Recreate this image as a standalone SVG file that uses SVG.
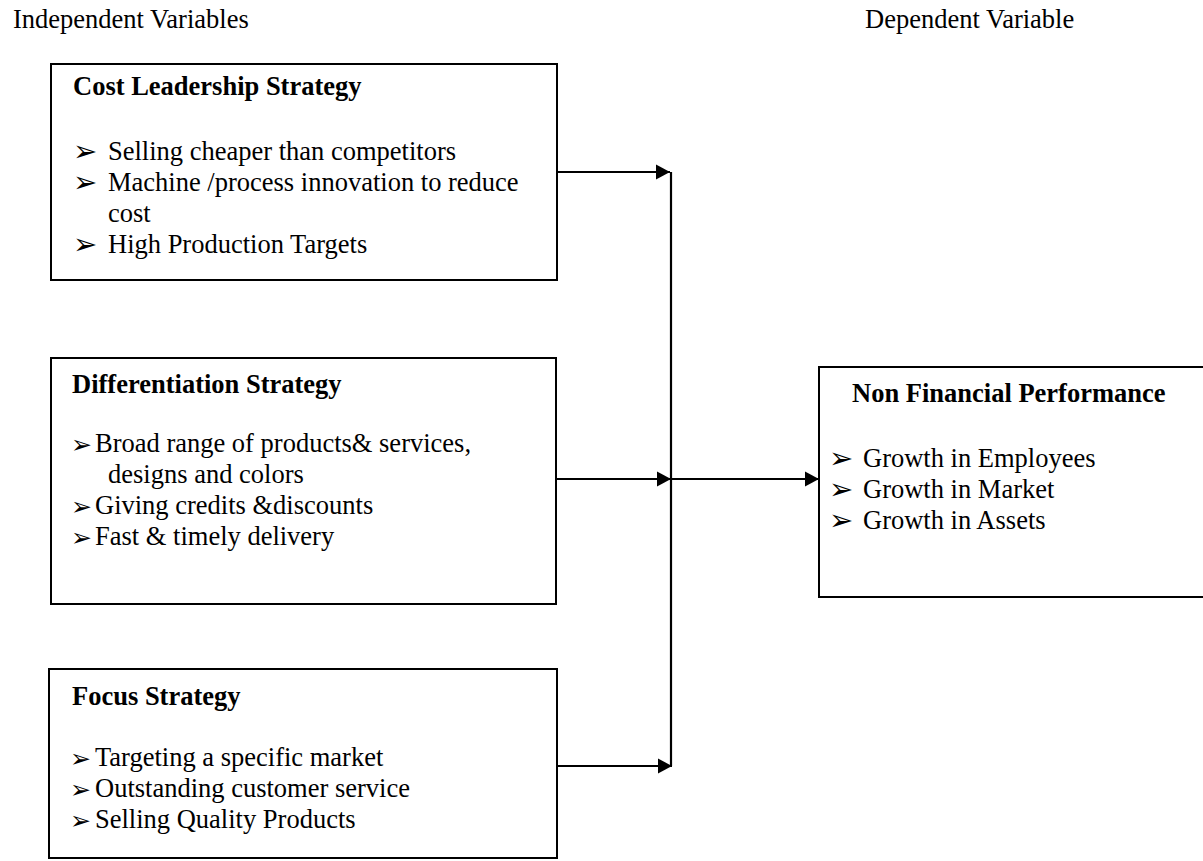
<svg xmlns="http://www.w3.org/2000/svg" width="1203" height="861" viewBox="0 0 1203 861">
  <style>
    text { font-family: "Liberation Serif", "Times New Roman", serif; font-size: 26.5px; fill: #000; }
    .title { font-weight: bold; }
    .blt { font-family: "DejaVu Sans", "Noto Sans", sans-serif; font-size: 29px; }
    .blt2 { font-family: "DejaVu Sans", "Noto Sans", sans-serif; font-size: 25px; }
    .box { fill: #fff; stroke: #000; stroke-width: 2; }
    .conn { stroke: #000; stroke-width: 2.2; fill: none; }
  </style>
  <defs>
    <marker id="arrow" markerUnits="userSpaceOnUse" markerWidth="15" markerHeight="16" refX="14" refY="8" orient="auto">
      <path d="M0,0.5 L14,8 L0,15.5 z" fill="#000"/>
    </marker>
  </defs>
  <rect width="1203" height="861" fill="#fff"/>

  <g id="headers">
    <text x="13" y="28">Independent Variables</text>
    <text x="865" y="28">Dependent Variable</text>
  </g>

  <g id="cost-leadership">
    <rect class="box" x="51" y="64" width="506" height="216"/>
    <text class="title" x="73" y="95">Cost Leadership Strategy</text>
    <text class="blt" x="73" y="161">➢</text>
    <text x="108" y="160">Selling cheaper than competitors</text>
    <text class="blt" x="73" y="192">➢</text>
    <text x="108" y="191">Machine /process innovation to reduce</text>
    <text x="108" y="222">cost</text>
    <text class="blt" x="73" y="254">➢</text>
    <text x="108" y="253">High Production Targets</text>
  </g>

  <g id="differentiation">
    <rect class="box" x="51" y="358" width="505" height="246"/>
    <text class="title" x="72" y="393">Differentiation Strategy</text>
    <text class="blt2" x="71" y="453">➢</text>
    <text x="95" y="452">Broad range of products&amp; services,</text>
    <text x="108" y="483">designs and colors</text>
    <text class="blt2" x="71" y="515">➢</text>
    <text x="95" y="514">Giving credits &amp;discounts</text>
    <text class="blt2" x="71" y="546">➢</text>
    <text x="95" y="545">Fast &amp; timely delivery</text>
  </g>

  <g id="focus">
    <rect class="box" x="49" y="669" width="508" height="189"/>
    <text class="title" x="72" y="705">Focus Strategy</text>
    <text class="blt2" x="70" y="767">➢</text>
    <text x="95" y="766">Targeting a specific market</text>
    <text class="blt2" x="70" y="798">➢</text>
    <text x="95" y="797">Outstanding customer service</text>
    <text class="blt2" x="70" y="829">➢</text>
    <text x="95" y="828">Selling Quality Products</text>
  </g>

  <g id="non-financial-performance">
    <rect class="box" x="819" y="367" width="400" height="230"/>
    <text class="title" x="852" y="402">Non Financial Performance</text>
    <text class="blt" x="829" y="468">➢</text>
    <text x="863" y="467">Growth in Employees</text>
    <text class="blt" x="829" y="499">➢</text>
    <text x="863" y="498">Growth in Market</text>
    <text class="blt" x="829" y="530">➢</text>
    <text x="863" y="529">Growth in Assets</text>
  </g>

  <g id="connectors">
    <line class="conn" x1="671" y1="172" x2="671" y2="766"/>
    <line class="conn" x1="557" y1="172" x2="670" y2="172" marker-end="url(#arrow)"/>
    <line class="conn" x1="556" y1="479" x2="671" y2="479" marker-end="url(#arrow)"/>
    <line class="conn" x1="557" y1="766" x2="672" y2="766" marker-end="url(#arrow)"/>
    <line class="conn" x1="671" y1="479" x2="819" y2="479" marker-end="url(#arrow)"/>
  </g>
</svg>
